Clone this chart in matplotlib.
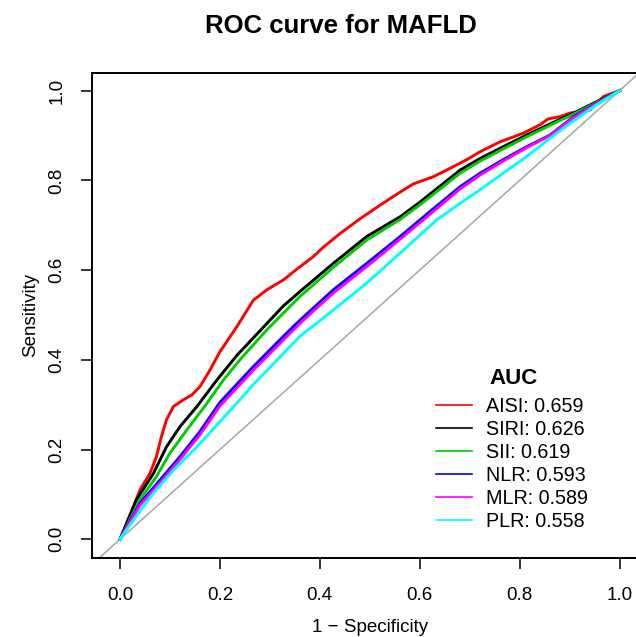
import matplotlib
matplotlib.use("Agg")
import matplotlib.pyplot as plt

plt.rcParams['font.family'] = ['Liberation Sans', 'DejaVu Sans']

# ROC points (1 - specificity, sensitivity)
aisi_fpr = [0, 0.027, 0.040, 0.060, 0.073, 0.083, 0.093, 0.107, 0.127, 0.144, 0.160, 0.180,
            0.200, 0.234, 0.267, 0.294, 0.327, 0.354, 0.387, 0.407, 0.440, 0.480, 0.521,
            0.554, 0.587, 0.627, 0.654, 0.694, 0.721, 0.761, 0.807, 0.841, 0.857, 0.881,
            0.901, 0.941, 0.968, 1.0]
aisi_tpr = [0, 0.073, 0.110, 0.147, 0.184, 0.229, 0.266, 0.296, 0.311, 0.322, 0.340, 0.377,
            0.418, 0.474, 0.533, 0.556, 0.578, 0.602, 0.630, 0.651, 0.681, 0.714, 0.745,
            0.769, 0.792, 0.808, 0.823, 0.846, 0.864, 0.886, 0.905, 0.924, 0.937, 0.942,
            0.950, 0.957, 0.987, 1.0]

siri_fpr = [0, 0.033, 0.067, 0.093, 0.120, 0.154, 0.194, 0.234, 0.267, 0.294, 0.327, 0.360,
            0.427, 0.494, 0.561, 0.601, 0.681, 0.721, 0.767, 0.814, 0.867, 0.901, 0.948, 1.0]
siri_tpr = [0, 0.088, 0.147, 0.206, 0.251, 0.296, 0.355, 0.410, 0.449, 0.481, 0.520, 0.552,
            0.615, 0.675, 0.719, 0.752, 0.823, 0.849, 0.875, 0.901, 0.929, 0.946, 0.972, 1.0]

sii_fpr = [0, 0.040, 0.073, 0.100, 0.134, 0.174, 0.207, 0.240, 0.294, 0.360, 0.427, 0.494,
           0.561, 0.601, 0.681, 0.721, 0.767, 0.814, 0.867, 0.901, 0.948, 1.0]
sii_tpr = [0, 0.088, 0.140, 0.192, 0.244, 0.303, 0.355, 0.400, 0.467, 0.541, 0.606, 0.667,
           0.713, 0.746, 0.816, 0.843, 0.870, 0.897, 0.926, 0.944, 0.970, 1.0]

nlr_fpr = [0, 0.040, 0.080, 0.120, 0.160, 0.200, 0.267, 0.334, 0.360, 0.427, 0.494, 0.561,
           0.634, 0.681, 0.721, 0.767, 0.814, 0.861, 0.908, 0.948, 1.0]
nlr_tpr = [0, 0.080, 0.132, 0.184, 0.240, 0.305, 0.385, 0.460, 0.488, 0.556, 0.615, 0.675,
           0.743, 0.786, 0.816, 0.846, 0.875, 0.901, 0.942, 0.968, 1.0]

mlr_fpr = [0, 0.040, 0.080, 0.120, 0.160, 0.200, 0.267, 0.334, 0.360, 0.427, 0.494, 0.561,
           0.634, 0.681, 0.721, 0.767, 0.814, 0.861, 0.908, 0.948, 1.0]
mlr_tpr = [0, 0.076, 0.126, 0.178, 0.233, 0.297, 0.377, 0.452, 0.481, 0.549, 0.608, 0.669,
           0.737, 0.781, 0.812, 0.843, 0.873, 0.900, 0.940, 0.967, 1.0]

plr_fpr = [0, 0.027, 0.067, 0.107, 0.154, 0.200, 0.240, 0.267, 0.334, 0.360, 0.427, 0.494,
           0.561, 0.634, 0.681, 0.721, 0.767, 0.814, 0.861, 0.901, 0.948, 1.0]
plr_tpr = [0, 0.043, 0.103, 0.154, 0.206, 0.262, 0.311, 0.345, 0.422, 0.452, 0.511, 0.571,
           0.638, 0.712, 0.749, 0.779, 0.816, 0.853, 0.894, 0.927, 0.964, 1.0]

names = ['AISI', 'SIRI', 'SII', 'NLR', 'MLR', 'PLR']
aucs = [0.659, 0.626, 0.619, 0.593, 0.589, 0.558]
colors = ['#FF0000', '#000000', '#00CD00', '#0000FF', '#FF00FF', '#00FFFF']
curves = [(aisi_fpr, aisi_tpr), (siri_fpr, siri_tpr), (sii_fpr, sii_tpr),
          (nlr_fpr, nlr_tpr), (mlr_fpr, mlr_tpr), (plr_fpr, plr_tpr)]

W, H = 636, 637
fig = plt.figure(figsize=(W / 100, H / 100), dpi=100)
# plot box: left 92px, top 72.7px, bottom 557.7px, right edge runs off the image
ax = fig.add_axes([92 / W, (H - 557.7) / H, (648 - 92) / W, (557.7 - 72.7) / H])

ax.axline((0, 0), (1, 1), color='#A6A6A6', lw=1.1, zorder=1)
for (fpr, tpr), name, auc, col in zip(curves, names, aucs, colors):
    ax.plot(fpr, tpr, color=col, lw=2.1, label=f'{name}: {auc:.3f}', zorder=2)

ax.set_xlim(-0.056, 1.057)
ax.set_ylim(-0.041, 1.040)
ticks = [0.0, 0.2, 0.4, 0.6, 0.8, 1.0]
ax.set_xticks(ticks)
ax.set_yticks(ticks)
ax.set_xticklabels([f'{t:.1f}' for t in ticks])
ax.set_yticklabels([f'{t:.1f}' for t in ticks], rotation=90, va='center')
ax.tick_params(direction='out', length=8, width=1.1, labelsize=13.5, pad=13)
ax.tick_params(axis='y', pad=11)
ax.spines['right'].set_visible(False)
for s in ['left', 'top', 'bottom']:
    ax.spines[s].set_linewidth(1.4)

ax.set_xlabel('1 \u2212 Specificity', fontsize=13.5, labelpad=11)
ax.set_ylabel('Sensitivity', fontsize=13.5, labelpad=7)

fig.text(341 / W, 1 - 26 / H, 'ROC curve for MAFLD', fontsize=18.5, fontweight='bold',
         ha='center', va='center')

leg = ax.legend(loc='upper left', bbox_to_anchor=(436 / W, 1 - 397 / H),
                bbox_transform=fig.transFigure, frameon=False, fontsize=14.2,
                handlelength=1.8, handletextpad=0.75, labelspacing=0.2, borderpad=0,
                borderaxespad=0)
for ln in leg.get_lines():
    ln.set_linewidth(1.2)
# legend heading, centred over the legend block
fig.text(514 / W, 1 - 379 / H, 'AUC', fontsize=16, fontweight='bold',
         ha='center', va='center')

fig.savefig('out.png', dpi=100)
